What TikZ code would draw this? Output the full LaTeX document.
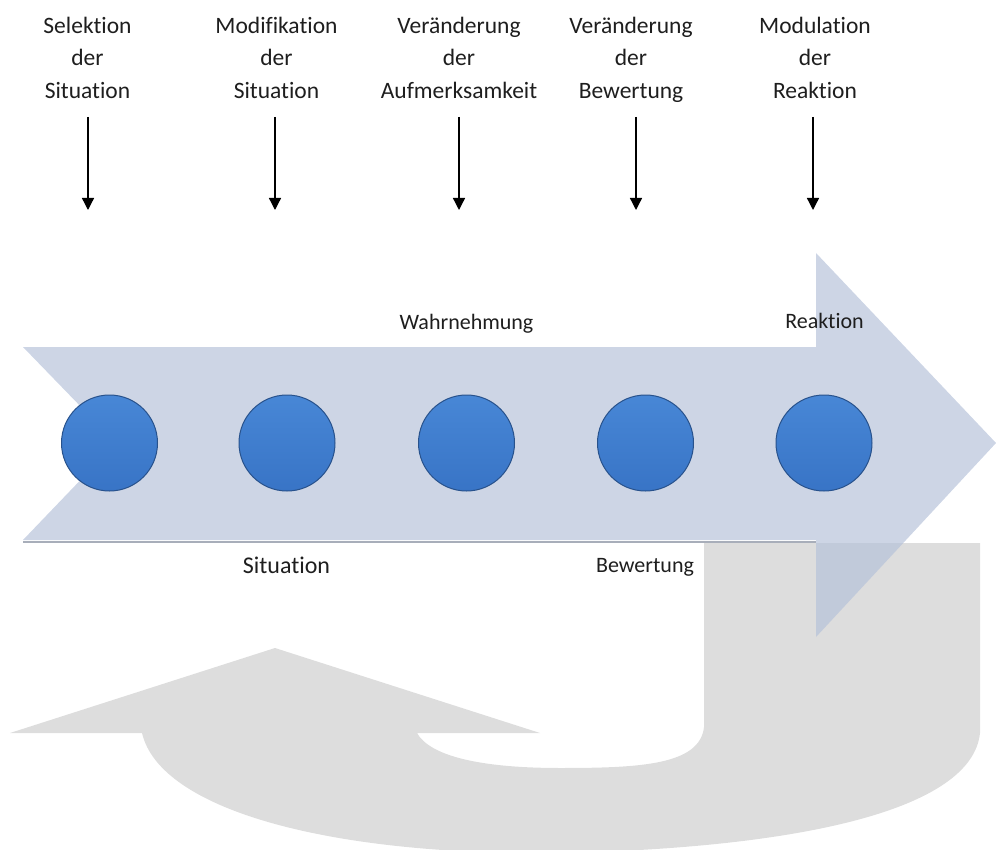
\documentclass[tikz,border=0pt]{standalone}
\usepackage{fontspec}
\setmainfont{Carlito}[Ligatures=CommonOff, Contextuals=AlternateOff]
\usetikzlibrary{arrows.meta}

\definecolor{flowblue}{RGB}{181,193,217}
\definecolor{loopgray}{RGB}{221,221,221}
\definecolor{dottop}{RGB}{72,135,214}
\definecolor{dotbottom}{RGB}{56,116,198}
\definecolor{dotrim}{RGB}{40,82,140}
\definecolor{inktext}{RGB}{30,30,30}
\definecolor{edgeshade}{RGB}{168,174,186}

\tikzset{
  toplabel/.style={align=center, anchor=north, inner sep=0pt, text=inktext,
    font={\fontsize{23.5}{32.5}\selectfont}},
  steplabel/.style={anchor=base, inner sep=0pt, text=inktext,
    font={\fontsize{22}{26}\selectfont}},
  dot/.style={circle, minimum size=96pt, inner sep=0pt, draw=dotrim, line width=1pt,
    top color=dottop, bottom color=dotbottom},
  downarrow/.style={line width=1.3pt, -{Triangle[width=12pt,length=12pt]}},
}

\begin{document}
\begin{tikzpicture}[x=1pt,y=-1pt]
\useasboundingbox (0,0) rectangle (996,850);

% returning U-shaped loop behind the main arrow
\fill[loopgray]
  (704,543) -- (704,727)
  .. controls (700,765) and (640,768) .. (560,768)
  .. controls (480,768) and (430,756) .. (417,733)
  -- (540,733) -- (275,648) -- (10,733) -- (142,733)
  .. controls (160,810) and (330,856) .. (560,853)
  .. controls (800,848) and (972,810) .. (980,733)
  -- (980,543) -- cycle;

% shaded lower edge of the main arrow body
\draw[edgeshade, line width=2pt] (23,541.5) -- (816,541.5);

% main process arrow
\fill[flowblue, fill opacity=0.68]
  (23,347) -- (816,347) -- (816,253) -- (996,443) -- (816,637)
  -- (816,540) -- (23,540) -- (116,443) -- cycle;

% process stages
\node[dot] (d1) at (109.5,443) {};
\node[dot] (d2) at (287,443) {};
\node[dot] (d3) at (466.5,443) {};
\node[dot] (d4) at (645.5,443) {};
\node[dot] (d5) at (824,443) {};

% stage labels
\node[steplabel] (wahr) at (466.5,330) {Wahrnehmung};
\node[steplabel] (reak) at (824.5,329) {Reaktion};
\node[steplabel, font={\fontsize{24}{28}\selectfont}] (situ) at (286.5,573) {Situation};
\node[steplabel] (bew) at (645,572) {Bewertung};

% regulation strategies
\node[toplabel] (s1) at (87.5,16.5) {Selektion\\der\\Situation};
\node[toplabel] (s2) at (276.5,16.5) {Modifikation\\der\\Situation};
\node[toplabel] (s3) at (459,16.5) {Veränderung\\der\\Aufmerksamkeit};
\node[toplabel] (s4) at (631,16.5) {Veränderung\\der\\Bewertung};
\node[toplabel] (s5) at (815,16.5) {Modulation\\der\\Reaktion};

\coordinate (a1s) at (88,117);  \coordinate (a1e) at (88,210);
\coordinate (a2s) at (275,117); \coordinate (a2e) at (275,210);
\coordinate (a3s) at (459,117); \coordinate (a3e) at (459,210);
\coordinate (a4s) at (636,117); \coordinate (a4e) at (636,210);
\coordinate (a5s) at (813,117); \coordinate (a5e) at (813,210);

\draw[downarrow] (a1s) -- (a1e);
\draw[downarrow] (a2s) -- (a2e);
\draw[downarrow] (a3s) -- (a3e);
\draw[downarrow] (a4s) -- (a4e);
\draw[downarrow] (a5s) -- (a5e);
\end{tikzpicture}
\end{document}
